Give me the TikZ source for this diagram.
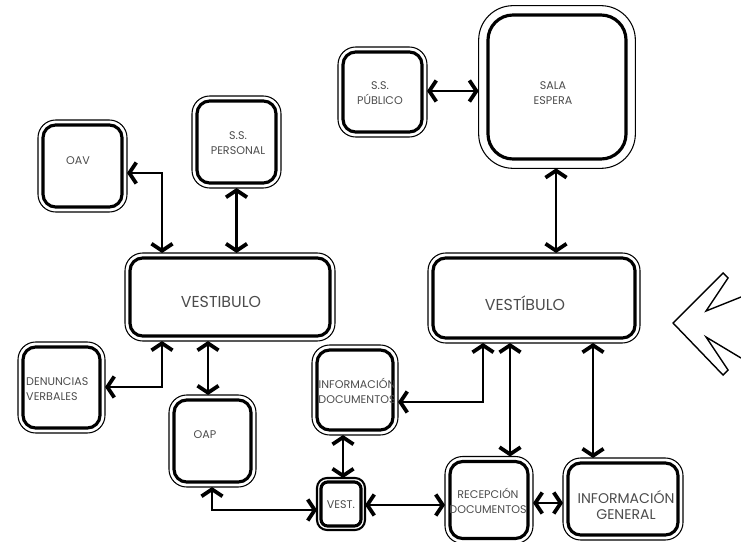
\documentclass[tikz,border=0pt]{standalone}
\usepackage{fontspec}
\setmainfont{Poppins}
\usetikzlibrary{arrows.meta}

\tikzset{
  room/.style={draw, line width=2.7pt, rounded corners=0.38cm, outer sep=0.15cm, inner sep=0pt},
  roomframe/.style={line width=0.9pt, rounded corners=0.53cm},
  lbl/.style={text=black!70, font=\fontsize{9.5}{12.5}\selectfont, align=center, inner sep=0pt},
  biglbl/.style={text=black!70, font=\fontsize{13.5}{15}\selectfont, align=center, inner sep=0pt},
  flow/.style={line width=2pt, <->}
}

\begin{document}
\begin{tikzpicture}[x=0.03cm, y=-0.03cm,
  >={Straight Barb[length=6pt,width=18pt,line width=3.2pt]}]
  \useasboundingbox (0,0) rectangle (741,542);
  % rooms, left block
  \node[room, minimum width=2.37cm, minimum height=2.46cm] (oav) at (82.5,166) {};
  \node[room, minimum width=2.37cm, minimum height=2.46cm] (sspers) at (236.5,142) {};
  \node[room, minimum width=6.0cm, minimum height=2.34cm] (vest1) at (230,297) {};
  \node[room, minimum width=2.31cm, minimum height=2.43cm] (denun) at (61.5,387.5) {};
  \node[room, minimum width=2.31cm, minimum height=2.46cm] (oap) at (212.5,441) {};
  \node[room, minimum width=2.28cm, minimum height=2.4cm] (infodoc) at (355,390) {};
  \node[room, minimum width=1.2cm, minimum height=1.32cm, rounded corners=0.2cm, outer sep=0.12cm] (vest) at (341,504) {};
  % rooms, right block
  \node[room, minimum width=2.34cm, minimum height=2.31cm] (recep) at (489,500) {};
  \node[room, minimum width=3.3cm, minimum height=2.16cm] (infogen) at (623,499) {};
  \node[room, minimum width=6.06cm, minimum height=2.4cm] (vest2) at (534,298) {};
  \node[room, minimum width=4.14cm, minimum height=4.32cm, rounded corners=0.75cm, outer sep=0.28cm] (sala) at (557,87) {};
  \node[room, minimum width=2.37cm, minimum height=2.4cm] (sspub) at (382.5,92) {};
  % outer thin frames
  \foreach \n in {oav,sspers,vest1,denun,oap,infodoc,recep,infogen,vest2,sspub}
    \draw[roomframe] (\n.north west) rectangle (\n.south east);
  \draw[roomframe, rounded corners=1.03cm] (sala.north west) rectangle (sala.south east);
  \draw[line width=1.8pt, rounded corners=0.3cm] (vest.north west) rectangle (vest.south east);
  % labels
  \node[lbl] (oav-t) at (78,161) {OAV};
  \node[lbl] (sspers-t) at (238,143) {S.S.\\PERSONAL};
  \node[biglbl] (vest1-t) at (221,302) {VESTIBULO};
  \node[lbl, anchor=west, align=left] (denun-t) at (26,389) {DENUNCIAS\\VERBALES};
  \node[lbl] (oap-t) at (205,435) {OAP};
  \node[lbl] (infodoc-t) at (357,391) {INFORMACIÓN\\DOCUMENTOS};
  \node[lbl] (vest-t) at (341,505) {VEST.};
  \node[lbl] (recep-t) at (488,501) {RECEPCIÓN\\DOCUMENTOS};
  \node[biglbl, font=\fontsize{12}{14}\selectfont] (infogen-t) at (626,505) {INFORMACIÓN\\GENERAL};
  \node[biglbl] (vest2-t) at (525,303) {VESTÍBULO};
  \node[lbl] (sala-t) at (553,93) {SALA\\ESPERA};
  \node[lbl] (sspub-t) at (380,93) {S.S.\\PÚBLICO};
  % connections
  \draw[flow] (oav.east |- 0,173) -| (vest1.north -| 162,0);
  \draw[flow] (sspers.south) -- (sspers.south |- vest1.north);
  \draw[flow] (denun.east |- 0,387) -| (vest1.south -| 162,0);
  \draw[flow] (vest1.south -| 208,0) -- (oap.north -| 208,0);
  \draw[flow] (oap.south -| 212,0) |- (vest.west |- 0,510);
  \draw[flow] (vest2.south -| 483,0) |- (infodoc.east |- 0,402);
  \draw[flow] (infodoc.south -| 343,0) -- (vest.north -| 343,0);
  \draw[flow] (vest.east |- 0,505) -- (recep.west |- 0,505);
  \draw[flow] (vest2.south -| 510,0) -- (recep.north -| 510,0);
  \draw[flow] (recep.east |- 0,503) -- (infogen.west |- 0,503);
  \draw[flow] (vest2.south -| 593,0) -- (infogen.north -| 593,0);
  \draw[flow] (sala.south -| 556,0) -- (vest2.north -| 556,0);
  \draw[flow] (sspub.east |- 0,91) -- (sala.west |- 0,91);
  % entrance arrow
  \draw[line width=1.2pt, line join=miter] (741,297) -- (706,311) -- (728,278) -- (723,273) -- (673,323)
    -- (723,375) -- (728,370) -- (706,337) -- (741,358);
\end{tikzpicture}
\end{document}
